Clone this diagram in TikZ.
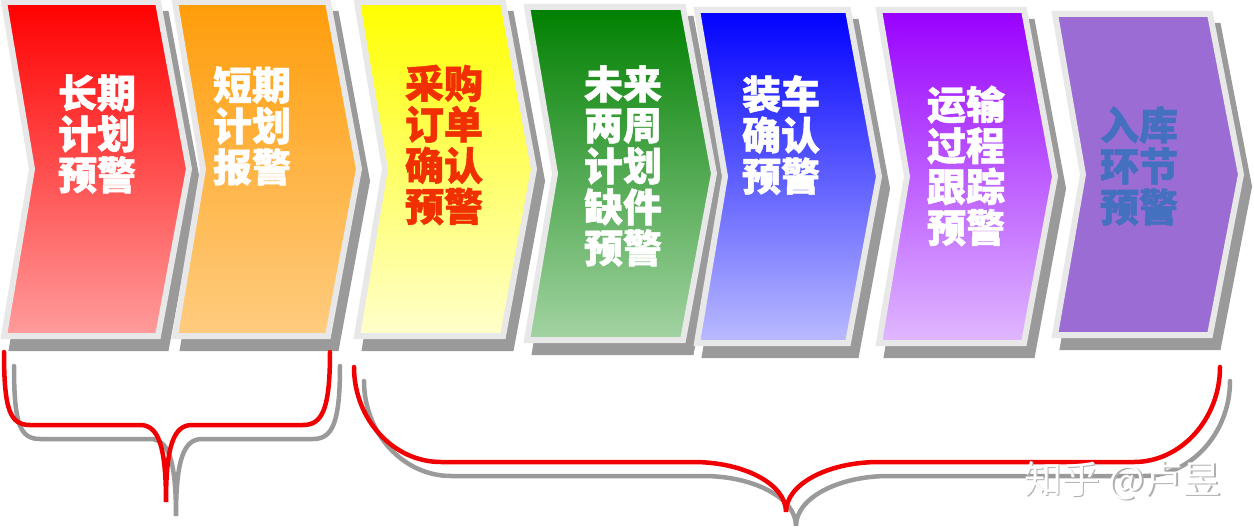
\documentclass[tikz,border=0pt]{standalone}
\usepackage{fontspec}
\newfontfamily\cjk{Noto Sans CJK SC}[BoldFeatures={FakeBold=1.2}]
\definecolor{bordergray}{HTML}{E8E8E8}
\definecolor{shadowgray}{HTML}{9A9A9A}
\definecolor{bracered}{HTML}{F00000}
\definecolor{cAt}{HTML}{FF0000}\definecolor{cAb}{HTML}{FF9C9C}
\definecolor{cBt}{HTML}{FF9D0A}\definecolor{cBb}{HTML}{FFCC80}
\definecolor{cCt}{HTML}{FFFF00}\definecolor{cCb}{HTML}{FFFFCC}
\definecolor{cDt}{HTML}{008000}\definecolor{cDb}{HTML}{A3D3A3}
\definecolor{cEt}{HTML}{0000FF}\definecolor{cEb}{HTML}{BBBBFF}
\definecolor{cFt}{HTML}{9900FF}\definecolor{cFb}{HTML}{E0B8FF}
\definecolor{cG}{HTML}{9A6CD4}
\definecolor{txtred}{HTML}{F03000}
\definecolor{txtblue}{HTML}{4470C0}
\definecolor{wmgray}{HTML}{B0B0B0}
\newcommand\chevron[4]{(#1-3,#3-3) -- (#2+3,#3-3) -- ({#2+34},{(#3+#4)/2}) -- (#2+3,#4+3) -- (#1-3,#4+3) -- ({#1+25},{(#3+#4)/2}) -- cycle}
\tikzset{
  chevborder/.style={draw=bordergray, line width=6pt, line join=miter},
  chevshadow/.style={fill=shadowgray, draw=shadowgray, line width=6pt, line join=miter, shift={(8,12)}},
  lbl/.style={font=\cjk\bfseries\fontsize{39}{41}\selectfont, align=center, text=white, inner sep=0pt},
  bracestyle/.style={draw=bracered, line width=4.5pt, line cap=round},
  braceshadow/.style={draw=shadowgray, line width=4.5pt, line cap=round, shift={(10,14)}},
  wm/.style={font=\cjk\fontsize{38}{40}\selectfont, inner sep=0pt}
}
\begin{document}
\begin{tikzpicture}[x=1pt,y=-1pt]
\useasboundingbox (0,0) rectangle (1254,532);
\fill[white] (0,0) rectangle (1254,532);
% shadows
\path[chevshadow] \chevron{7}{155}{5}{333};
\path[chevshadow] \chevron{178}{325}{5}{333};
\path[chevshadow] \chevron{360}{500}{5}{333};
\path[chevshadow] \chevron{530}{680}{10}{337};
\path[chevshadow] \chevron{700}{845}{13}{340};
\path[chevshadow] \chevron{882}{1021}{13}{340};
\path[chevshadow] \chevron{1058}{1207}{17}{332};
% chevrons
\draw[chevborder, top color=cAt, bottom color=cAb] \chevron{7}{155}{5}{333};
\draw[chevborder, top color=cBt, bottom color=cBb] \chevron{178}{325}{5}{333};
\draw[chevborder, top color=cCt, bottom color=cCb] \chevron{360}{500}{5}{333};
\draw[chevborder, top color=cDt, bottom color=cDb] \chevron{530}{680}{10}{337};
\draw[chevborder, top color=cEt, bottom color=cEb] \chevron{700}{845}{13}{340};
\draw[chevborder, top color=cFt, bottom color=cFb] \chevron{882}{1021}{13}{340};
\draw[chevborder, fill=cG] \chevron{1058}{1207}{17}{332};
% labels
\node[lbl] (t1) at (97,134) {长期\\计划\\预警};
\node[lbl] (t2) at (252,126) {短期\\计划\\报警};
\node[lbl, text=txtred] (t3) at (444,145) {采购\\订单\\确认\\预警};
\node[lbl] (t4) at (623,166) {未来\\两周\\计划\\缺件\\预警};
\node[lbl] (t5) at (781,135) {装车\\确认\\预警};
\node[lbl] (t6) at (966,166) {运输\\过程\\跟踪\\预警};
\node[lbl, text=txtblue] (t7) at (1139,166) {入库\\环节\\预警};
% braces: shadows
\draw[braceshadow] (4,352) .. controls (4,410) and (10,425) .. (30,425) -- (140,425)
  .. controls (158,425) and (166,445) .. (166,502)
  .. controls (166,445) and (174,425) .. (192,425) -- (303,425)
  .. controls (322,425) and (330,410) .. (330,352);
\draw[braceshadow] (354,367) .. controls (354,419) and (393,462) .. (441,462) -- (693,462)
  .. controls (744,462) and (786,484) .. (786,512)
  .. controls (786,484) and (828,462) .. (879,462) -- (1134,462)
  .. controls (1181,462) and (1220,419) .. (1220,367);
% braces
\draw[bracestyle] (4,352) .. controls (4,410) and (10,425) .. (30,425) -- (140,425)
  .. controls (158,425) and (166,445) .. (166,502)
  .. controls (166,445) and (174,425) .. (192,425) -- (303,425)
  .. controls (322,425) and (330,410) .. (330,352);
\draw[bracestyle] (354,367) .. controls (354,419) and (393,462) .. (441,462) -- (693,462)
  .. controls (744,462) and (786,484) .. (786,512)
  .. controls (786,484) and (828,462) .. (879,462) -- (1134,462)
  .. controls (1181,462) and (1220,419) .. (1220,367);
% watermark
\node[wm, text=wmgray] (wms) at (1124,482) {知乎 @卢昱};
\node[wm, text=white] (wmt) at (1122.5,480.5) {知乎 @卢昱};
\end{tikzpicture}
\end{document}
